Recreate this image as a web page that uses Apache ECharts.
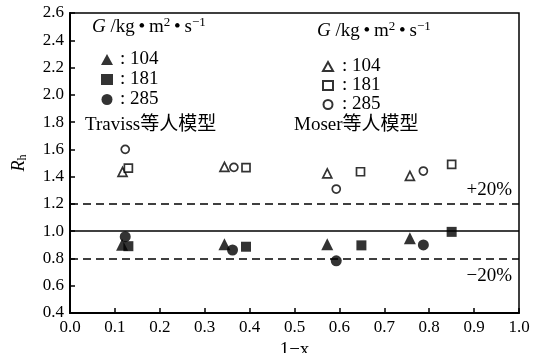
<!DOCTYPE html>
<html>
<head>
<meta charset="utf-8">
<script src="https://cdn.jsdelivr.net/npm/echarts@6/dist/echarts.min.js"></script>
<style>
  html, body { margin: 0; padding: 0; background: #fff; }
  #chart { width: 542px; height: 353px; }
</style>
</head>
<body>
<div id="chart"></div>
<script>
const xTicks = [0.0, 0.1, 0.2, 0.3, 0.4, 0.5, 0.6, 0.7, 0.8, 0.9, 1.0];
const yTicks = [0.4, 0.6, 0.8, 1.0, 1.2, 1.4, 1.6, 1.8, 2.0, 2.2, 2.4, 2.6];
const massFlux = ["104", "181", "285"];

// Traviss model (filled markers)
const traviss104 = [[0.116, 0.90], [0.344, 0.905], [0.573, 0.905], [0.757, 0.948]];
const traviss181 = [[0.130, 0.89], [0.392, 0.886], [0.649, 0.896], [0.850, 0.995]];
const traviss285 = [[0.123, 0.96], [0.362, 0.862], [0.593, 0.783], [0.787, 0.899]];

// Moser model (open markers)
const moser104 = [[0.117, 1.435], [0.344, 1.472], [0.573, 1.424], [0.757, 1.405]];
const moser181 = [[0.130, 1.462], [0.392, 1.466], [0.647, 1.436], [0.850, 1.49]];
const moser285 = [[0.123, 1.60], [0.365, 1.468], [0.593, 1.309], [0.787, 1.441]];

const refLines = [1.0, 1.2, 0.8];

const serif = "Liberation Serif";
const chart = echarts.init(document.getElementById("chart"));

function pts(name, data, symbol, size, filled) {
  return {
    name: name,
    type: "scatter",
    data: data,
    symbol: symbol,
    symbolSize: size,
    itemStyle: filled
      ? { color: "#000" }
      : { color: "#fff", borderColor: "#000", borderWidth: 1.7 },
    z: 5,
  };
}

const unitText = {
  text: "{i|G} /kg\u2009\u2022\u2009m{sup|2}\u2009\u2022\u2009s{sup|\u22121}",
  rich: {
    i: { fontFamily: serif, fontStyle: "italic", fontSize: 19, fill: "#000" },
    sup: { fontFamily: serif, fontSize: 13, fill: "#000", padding: [0, 0, 9, 0] },
  },
  font: "19px " + serif,
  fill: "#000",
};

const modelFont = "19px 'Liberation Serif', 'Noto Sans CJK SC'";

const option = {
  animation: false,
  backgroundColor: "#fff",
  textStyle: { fontFamily: serif, color: "#000" },
  grid: {
    left: 70, right: 23, top: 13, bottom: 40,
    outerBoundsMode: "none",
    containLabel: false,
    show: true, borderColor: "#000", borderWidth: 1.5,
  },
  xAxis: {
    type: "value",
    min: 0, max: 1, interval: 0.1,
    name: "1\u2212x",
    nameLocation: "middle",
    nameGap: 22,
    nameTextStyle: { fontFamily: serif, fontSize: 19, color: "#000" },
    axisLine: { show: true, lineStyle: { color: "#000", width: 2 } },
    axisTick: { show: true, inside: true, length: 5, lineStyle: { color: "#000", width: 1.5 } },
    axisLabel: {
      fontFamily: serif, fontSize: 17, color: "#000", margin: 6,
      formatter: (v) => v.toFixed(1),
    },
    splitLine: { show: false },
  },
  yAxis: {
    type: "value",
    min: 0.4, max: 2.6, interval: 0.2,
    name: "{r|R}{s|h}",
    nameLocation: "middle",
    nameRotate: 90,
    nameGap: 41,
    nameTextStyle: {
      rich: {
        r: { fontFamily: serif, fontStyle: "italic", fontSize: 18, color: "#000" },
        s: { fontFamily: serif, fontSize: 12, color: "#000", verticalAlign: "bottom", padding: [7, 0, 0, 0] },
      },
    },
    axisLine: { show: true, lineStyle: { color: "#000", width: 2 } },
    axisTick: { show: true, inside: true, length: 5, lineStyle: { color: "#000", width: 1.5 } },
    axisLabel: {
      fontFamily: serif, fontSize: 17, color: "#000", margin: 6,
      formatter: (v) => v.toFixed(1),
    },
    splitLine: { show: false },
  },
  legend: [
    {
      data: ["Traviss 104", "Traviss 181", "Traviss 285"],
      orient: "vertical",
      left: 96, top: 45,
      itemGap: 1,
      itemWidth: 12, itemHeight: 11,
      textStyle: { fontFamily: serif, fontSize: 19, color: "#000", padding: [0, 0, 0, 2] },
      formatter: (n) => ": " + n.split(" ")[1],
      selectedMode: false,
    },
    {
      data: ["Moser 104", "Moser 181", "Moser 285"],
      orient: "vertical",
      left: 317, top: 52,
      itemGap: 0,
      itemWidth: 10, itemHeight: 9,
      textStyle: { fontFamily: serif, fontSize: 19, color: "#000", padding: [0, 0, 0, 4] },
      formatter: (n) => ": " + n.split(" ")[1],
      selectedMode: false,
    },
  ],
  graphic: [
    { type: "text", left: 92, top: 16, style: unitText },
    { type: "text", left: 317, top: 20, style: unitText },
    {
      type: "text", left: 85, top: 116,
      style: { text: "Traviss\u7b49\u4eba\u6a21\u578b", font: modelFont, fill: "#000" },
    },
    {
      type: "text", left: 294, top: 116,
      style: { text: "Moser\u7b49\u4eba\u6a21\u578b", font: modelFont, fill: "#000" },
    },
    {
      type: "text", right: 30, top: 181,
      style: { text: "+20%", font: "19px " + serif, fill: "#000" },
    },
    {
      type: "text", right: 30, top: 267,
      style: { text: "\u221220%", font: "19px " + serif, fill: "#000" },
    },
  ],
  series: [
    pts("Traviss 104", traviss104, "triangle", 12, true),
    pts("Traviss 181", traviss181, "rect", 10, true),
    pts("Traviss 285", traviss285, "circle", 11, true),
    pts("Moser 104", moser104, "triangle", 9, false),
    pts("Moser 181", moser181, "rect", 8, false),
    pts("Moser 285", moser285, "circle", 8, false),
    {
      name: "ref",
      type: "line",
      data: [],
      markLine: {
        silent: true,
        symbol: "none",
        label: { show: false },
        data: refLines.map((v) => ({
          yAxis: v,
          lineStyle: { color: "#000", width: 1.7, type: v === 1.0 ? "solid" : [8, 5] },
        })),
      },
    },
  ],
};

chart.setOption(option);
</script>
</body>
</html>
